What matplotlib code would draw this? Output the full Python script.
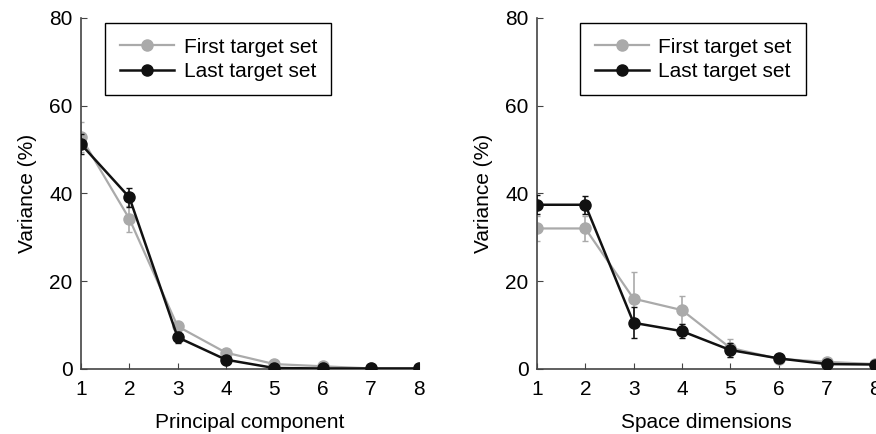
import numpy as np
import matplotlib.pyplot as plt
from matplotlib.lines import Line2D

x = np.arange(1, 9)

# left panel: principal components
pc_first = [52.8, 34.2, 9.7, 3.7, 1.1, 0.6, 0.1, 0.1]
pc_first_err = [3.4, 3.0, 0.8, 0.6, 0.4, 0.3, 0.1, 0.1]
pc_last = [51.2, 39.1, 7.2, 2.1, 0.2, 0.1, 0.1, 0.1]
pc_last_err = [2.3, 2.1, 1.3, 0.6, 0.2, 0.1, 0.1, 0.1]

# right panel: space dimensions
sd_first = [32.0, 32.0, 16.0, 13.4, 4.8, 2.3, 1.6, 1.1]
sd_first_err = [2.8, 2.9, 6.0, 3.2, 2.0, 0.5, 0.5, 0.3]
sd_last = [37.4, 37.4, 10.5, 8.6, 4.3, 2.4, 1.1, 1.0]
sd_last_err = [2.2, 2.1, 3.5, 1.6, 1.5, 0.5, 0.3, 0.2]

labels = ['First target set', 'Last target set']
gray = '#aaaaaa'
black = '#111111'

plt.rcParams['font.family'] = ['Liberation Sans', 'DejaVu Sans']
plt.rcParams['font.size'] = 15


def draw_panel(ax, first, first_err, last, last_err, xlabel, leg_x):
    ax.errorbar(x, first, yerr=first_err, color=gray, marker='o', markersize=8,
                linewidth=1.6, capsize=2.5, elinewidth=1.2, zorder=2)
    ax.errorbar(x, last, yerr=last_err, color=black, marker='o', markersize=8,
                linewidth=1.8, capsize=2.5, elinewidth=1.2, zorder=3)
    ax.set_xlim(1, 8)
    ax.set_ylim(0, 80)
    ax.set_xticks(x)
    ax.set_yticks([0, 20, 40, 60, 80])
    ax.set_xlabel(xlabel, labelpad=10)
    ax.set_ylabel('Variance (%)', labelpad=9)
    for s in ['top', 'right']:
        ax.spines[s].set_visible(False)
    for s in ['left', 'bottom']:
        ax.spines[s].set_color('#444444')
        ax.spines[s].set_linewidth(1.2)
    ax.tick_params(direction='in', length=4, color='#444444', labelsize=15)
    ax.tick_params(axis='x', pad=8)
    ax.tick_params(axis='y', pad=6)
    handles = [Line2D([], [], color=gray, marker='o', markersize=8, linewidth=1.6),
               Line2D([], [], color=black, marker='o', markersize=8, linewidth=1.8)]
    leg = ax.legend(handles, labels, loc='upper left', bbox_to_anchor=(leg_x, 0.985),
                    fancybox=False, edgecolor='black', framealpha=1, handlelength=2.6,
                    borderpad=0.7, fontsize=15, handletextpad=0.45,
                    labelspacing=0.25, borderaxespad=0)
    leg.get_frame().set_linewidth(1.0)


fig = plt.figure(figsize=(8.76, 4.34), dpi=100)
ax1 = fig.add_axes([0.0925, 0.150, 0.386, 0.809])
ax2 = fig.add_axes([0.613, 0.150, 0.386, 0.809])

draw_panel(ax1, pc_first, pc_first_err, pc_last, pc_last_err, 'Principal component', 0.072)
draw_panel(ax2, sd_first, sd_first_err, sd_last, sd_last_err, 'Space dimensions', 0.128)

fig.savefig('out.png', dpi=100)
